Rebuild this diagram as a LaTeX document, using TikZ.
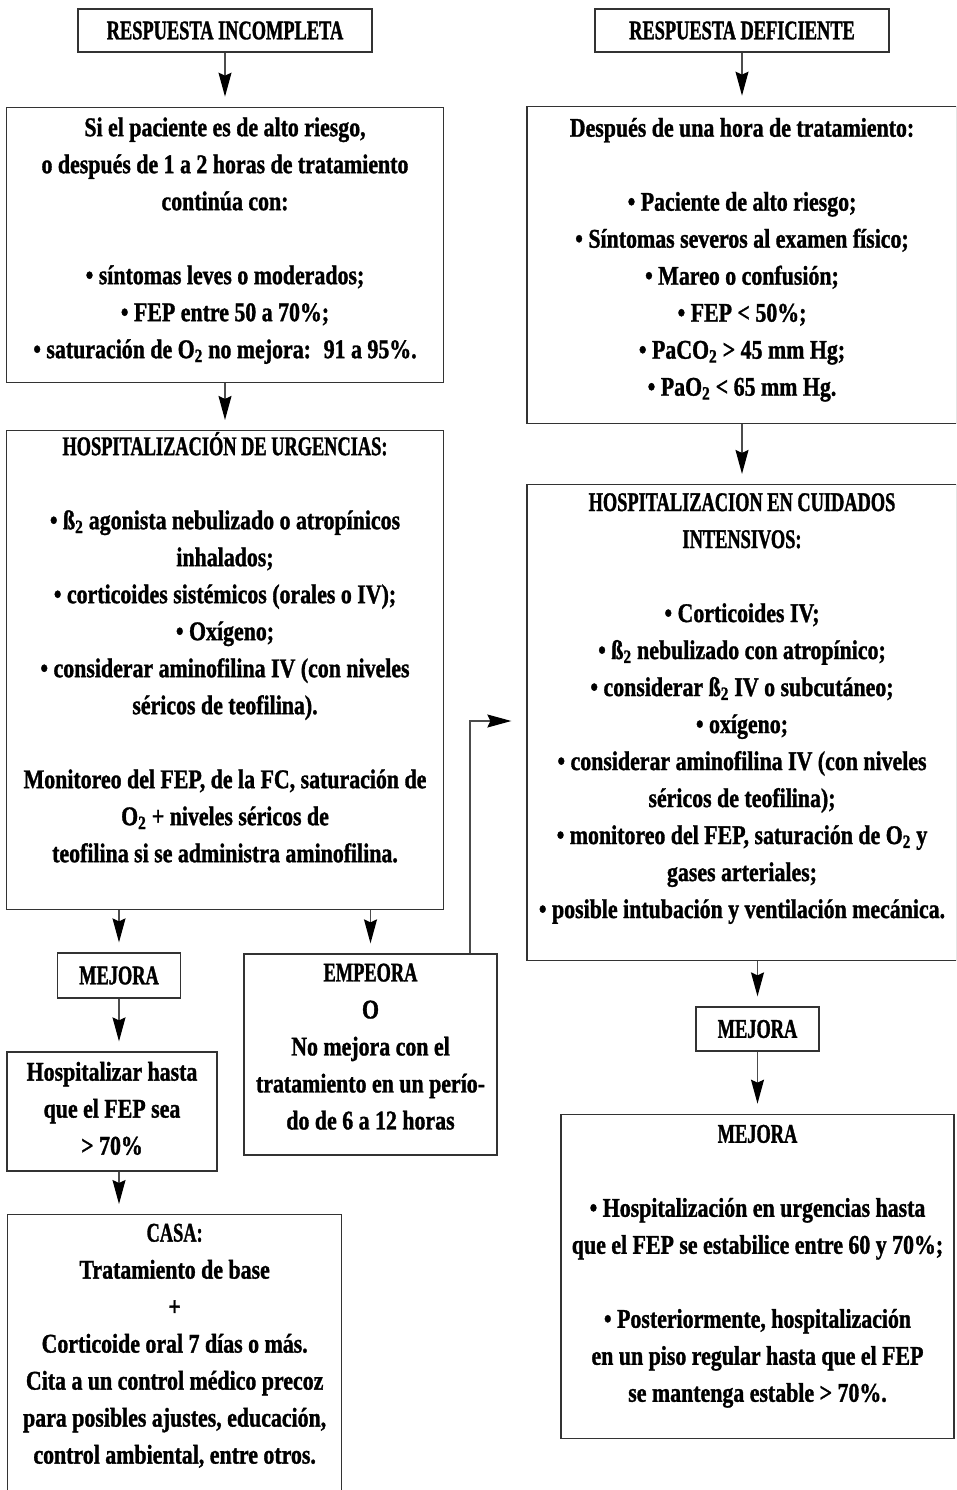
\documentclass[tikz,border=0pt]{standalone}
\usepackage{fontspec}
\setmainfont{Liberation Serif}[FakeStretch=0.81, BoldFeatures={FakeBold=1.2}]
\newfontfamily\titlefont{Liberation Serif}[FakeStretch=0.68, BoldFeatures={FakeBold=1.2}]
\usetikzlibrary{positioning,arrows.meta}

\begin{document}
\begin{tikzpicture}[
                x=1pt, y=-1pt,
                box/.style={draw=black!80, line width=1.3pt, fill=white,
                            align=center, inner sep=0pt,
                            font=\fontsize{27}{37}\selectfont\bfseries},
                size/.style 2 args={minimum width=#1pt, minimum height=#2pt},
                arr/.style={-{Stealth[length=24pt,width=13pt,inset=3pt,color=black]},
                            line width=1.3pt, draw=black!70,
                            shorten >=10pt}
            ]
                \useasboundingbox (0,0) rectangle (956,1490);
                \clip (0,0) rectangle (956,1490);

                % columna izquierda
                \node[box, size={294}{43}] (resInc) at (225,30.5) {{\titlefont RESPUESTA INCOMPLETA}};
                \node[box, size={437}{275}, text depth=14pt, below=54pt of resInc] (inc) {Si el paciente es de alto riesgo,\\ o después de 1 a 2 horas de tratamiento\\ continúa con:\\[37pt] • síntomas leves o moderados;\\ • FEP entre 50 a 70\%;\\ • saturación de O\textsubscript{2} no mejora:~ 91 a 95\%.};
                \node[box, size={437}{479}, text depth=46pt, below=47pt of inc] (hospU) {{\titlefont HOSPITALIZACIÓN DE URGENCIAS:}\\[37pt] • ß\textsubscript{2} agonista nebulizado o atropínicos\\ inhalados;\\ • corticoides sistémicos (orales o IV);\\ • Oxígeno;\\ • considerar aminofilina IV (con niveles\\ séricos de teofilina).\\[37pt] Monitoreo del FEP, de la FC, saturación de\\ O\textsubscript{2} + niveles séricos de\\ teofilina si se administra aminofilina.};
                \node[box, size={123}{45}] (mejL) at (119,975.5) {{\titlefont MEJORA}};
                \node[box, size={210}{119}, text depth=6.5pt] (hospit) at (112,1111.5) {Hospitalizar hasta\\ que el FEP sea\\ > 70\%};
                \node[box, size={334}{278}, text depth=20pt, anchor=north west] (casa) at (7,1214) {{\titlefont CASA:}\\ Tratamiento de base\\ +\\ Corticoide oral 7 días o más.\\ Cita a un control médico precoz\\ para posibles ajustes, educación,\\ control ambiental, entre otros.};
                \node[box, size={253}{201}, text depth=16pt] (emp) at (370.5,1054.5) {{\titlefont EMPEORA}\\ O\\ No mejora con el\\ tratamiento en un perío-\\ do de 6 a 12 horas};

                % columna derecha
                \node[box, size={294}{43}] (resDef) at (742,30.5) {{\titlefont RESPUESTA DEFICIENTE}};
                \node[box, size={430}{317}, text depth=16pt, below=53pt of resDef] (desp) {Después de una hora de tratamiento:\\[37pt] • Paciente de alto riesgo;\\ • Síntomas severos al examen físico;\\ • Mareo o confusión;\\ • FEP < 50\%;\\ • PaCO\textsubscript{2} > 45 mm Hg;\\ • PaO\textsubscript{2} < 65 mm Hg.};
                \node[box, size={430}{476}, text depth=34pt, below=60pt of desp] (cuid) {{\titlefont HOSPITALIZACION EN CUIDADOS}\\ {\titlefont INTENSIVOS:}\\[37pt] • Corticoides IV;\\ • ß\textsubscript{2} nebulizado con atropínico;\\ • considerar ß\textsubscript{2} IV o subcutáneo;\\ • oxígeno;\\ • considerar aminofilina IV (con niveles\\ séricos de teofilina);\\ • monitoreo del FEP, saturación de O\textsubscript{2} y\\ gases arteriales;\\ • posible intubación y ventilación mecánica.};
                \node[box, size={123}{44}] (mejR) at (757.5,1029) {{\titlefont MEJORA}};
                \node[box, size={393}{324}, text depth=26pt, below=62pt of mejR] (estable) {{\titlefont MEJORA}\\[37pt] • Hospitalización en urgencias hasta\\ que el FEP se estabilice entre 60 y 70\%;\\[37pt] • Posteriormente, hospitalización\\ en un piso regular hasta que el FEP\\ se mantenga estable > 70\%.};

                \coordinate (turn) at (470,721);

                % flechas
                \draw[arr] (resInc) -- (inc);
                \draw[arr] (inc) -- (hospU);
                \draw[arr] (hospU.south -| mejL) -- (mejL.north);
                \draw[arr] (hospU.south -| emp) -- (emp.north);
                \draw[arr] (mejL.south) -- (mejL.south |- hospit.north);
                \draw[arr] (hospit.south -| mejL) -- (casa.north -| mejL);
                \draw[arr, shorten >=15pt] (emp.north -| turn) -- (turn) -- (turn -| cuid.west);
                \draw[arr] (resDef) -- (desp);
                \draw[arr] (desp) -- (cuid);
                \draw[arr] (cuid.south -| mejR) -- (mejR.north);
                \draw[arr] (mejR.south) -- (mejR.south |- estable.north);
            \end{tikzpicture}
\end{document}
